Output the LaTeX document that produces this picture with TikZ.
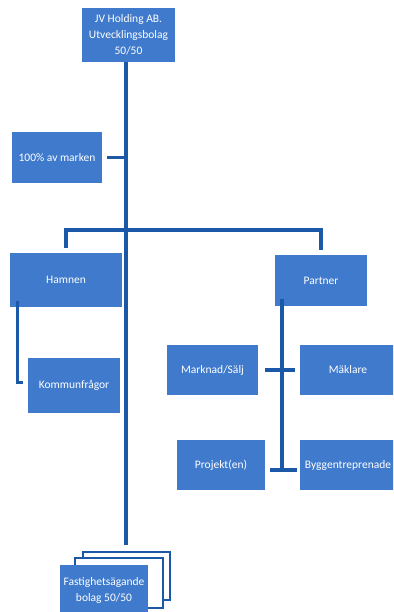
\documentclass[tikz,border=0pt]{standalone}
\usepackage{fontspec}
\setmainfont{Carlito}
\definecolor{boxblue}{RGB}{64,122,204}
\definecolor{lineblue}{RGB}{28,88,168}

\begin{document}
\begin{tikzpicture}[x=1pt,y=-1pt,
    orgbox/.style={fill=boxblue,text=white,inner sep=0pt,align=center,
      font=\fontsize{11.5}{16}\selectfont},
    orgline/.style={lineblue,line width=3.5pt}]
  \useasboundingbox (0,0) rectangle (393,612);
  \clip (0,0) rectangle (393,612);

  \node[orgbox,minimum width=93pt,minimum height=54pt] (holding) at (128.5,35) {JV Holding AB.\\Utvecklingsbolag\\50/50};
  \node[orgbox,minimum width=90pt,minimum height=51pt] (marken) at (57,157.5) {100\% av marken};

  \node[orgbox,minimum width=112pt,minimum height=54pt] (hamnen) at (66,280) {Hamnen};
  \node[orgbox,minimum width=92pt,minimum height=51pt] (partner) at (321,280.5) {Partner};
  \node[orgbox,minimum width=92pt,minimum height=55pt] (kommun) at (74,385.5) {Kommunfrågor};

  \node[orgbox,minimum width=91pt,minimum height=50pt] (marknad) at (212.5,370) {Marknad/Sälj};
  \node[orgbox,minimum width=96pt,minimum height=50pt] (maklare) at (348,370) {Mäklare};
  \node[orgbox,minimum width=88pt,minimum height=50pt] (projekt) at (221,465) {Projekt(en)};
  \node[orgbox,minimum width=96pt,minimum height=50pt] (bygg) at (348,465) {Byggentreprenade};

  % stacked companies
  \draw[lineblue,line width=2pt,fill=white] (83,552) rectangle (170,600);
  \draw[lineblue,line width=2pt,fill=white] (75,558) rectangle (163,608);
  \node[orgbox,minimum width=88pt,minimum height=50pt] (fastighet) at (104,590) {Fastighetsägande\\bolag 50/50};

  % trunk
  \coordinate (trunkend) at (126,545);
  \draw[orgline] (holding.south -| trunkend) -- (trunkend);
  \draw[orgline,shorten <=5pt] (marken.east) -- (marken.east -| trunkend);

  % to hamnen and partner
  \draw[orgline,shorten <=5pt,shorten >=5pt] (hamnen.north) |- (126,230) -| (partner.north);

  \draw[orgline,line width=3pt] ([xshift=8pt,yshift=6pt]hamnen.south west) |- ([xshift=-5pt,yshift=3pt]kommun.west);

  \coordinate (pline) at (282,470);
  \draw[orgline] ([yshift=7pt]partner.south -| pline) -- (pline);
  \draw[orgline,shorten <=7pt,shorten >=5pt] (marknad.east) -- (maklare.west);
  \draw[orgline,shorten <=5pt,shorten >=3pt] (projekt.east |- pline) -- (bygg.west |- pline);
\end{tikzpicture}
\end{document}
